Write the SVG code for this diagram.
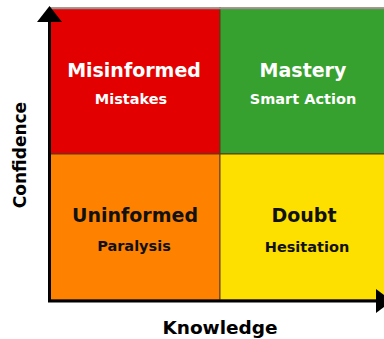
<svg xmlns="http://www.w3.org/2000/svg" width="384" height="339" viewBox="0 0 384 339">
<style>
.q{stroke:#5a3a1a;stroke-width:1}
.t{font-family:"DejaVu Sans",Verdana,sans-serif;font-weight:bold;text-anchor:middle}
.big{font-size:19px}
.small{font-size:14.5px}
.w{fill:#ffffff}
.k{fill:#111111}
.ax{font-family:"DejaVu Sans",Verdana,sans-serif;font-weight:bold;fill:#000;text-anchor:middle}
</style>
<rect width="384" height="339" fill="#ffffff"/>
<g id="misinformed">
<rect class="q" x="50" y="8" width="170" height="146" fill="#e30000"/>
<text class="t big w" x="134" y="77">Misinformed</text>
<text class="t small w" x="131" y="104">Mistakes</text>
</g>
<g id="mastery">
<rect class="q" x="220" y="8" width="170" height="146" fill="#36a12e"/>
<text class="t big w" x="303" y="77">Mastery</text>
<text class="t small w" x="303" y="104">Smart Action</text>
</g>
<g id="uninformed">
<rect class="q" x="50" y="154" width="170" height="146" fill="#fe8100"/>
<text class="t big k" x="135" y="222">Uninformed</text>
<text class="t small k" x="134" y="251">Paralysis</text>
</g>
<g id="doubt">
<rect class="q" x="220" y="154" width="170" height="146" fill="#fde000"/>
<text class="t big k" x="304" y="222">Doubt</text>
<text class="t small k" x="307" y="252">Hesitation</text>
</g>
<line x1="50" y1="8.5" x2="384" y2="8.5" stroke="#9a9090" stroke-width="1.5"/>
<g id="connectors">
<line x1="49.5" y1="20" x2="49.5" y2="302" stroke="#000" stroke-width="3"/>
<polygon points="49.5,6 37,22 62,22" fill="#000"/>
<line x1="48" y1="301" x2="378" y2="301" stroke="#000" stroke-width="3"/>
<polygon points="392,301 376,289 376,313" fill="#000"/>
</g>
<text class="ax" x="220" y="334" font-size="18.5">Knowledge</text>
<text class="ax" font-size="17" transform="translate(26 155) rotate(-90)">Confidence</text>
</svg>
